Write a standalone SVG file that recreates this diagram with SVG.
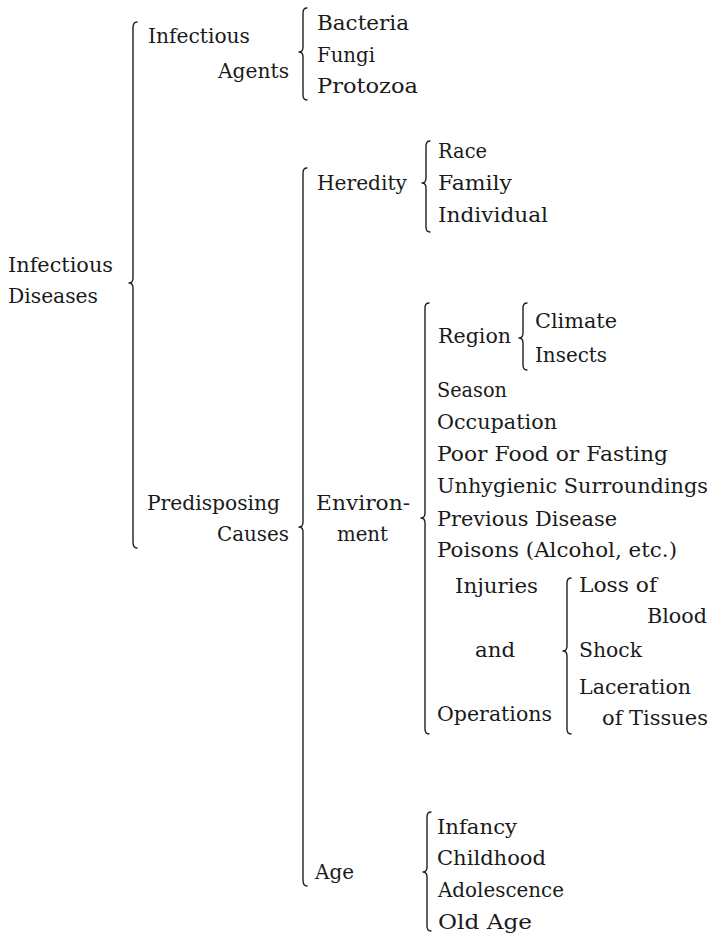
<svg xmlns="http://www.w3.org/2000/svg" width="714" height="933" viewBox="0 0 714 933">
<style>
text{font-family:"DejaVu Serif","Liberation Serif",serif;font-size:20px;fill:#1a1a1a}
.br{fill:none;stroke:#1f1f1f;stroke-width:1.4;stroke-linecap:round;stroke-linejoin:round}
</style>
<rect width="714" height="933" fill="#ffffff"/>
<g id="connectors">
<path class="br" d="M137,22 Q133,22 133,28 L133,278 Q133,283 129,283 Q133,283 133,288 L133,542 Q133,548 137,548"/>
<path class="br" d="M307,8 Q303,8 303,13 L303,47 Q303,52 299,52 Q303,52 303,57 L303,95 Q303,100 307,100"/>
<path class="br" d="M307,168 Q303,168 303,173 L303,522 Q303,527 299,527 Q303,527 303,532 L303,880 Q303,886 307,886"/>
<path class="br" d="M430,141 Q426,141 426,146 L426,178 Q426,183 422,183 Q426,183 426,188 L426,227 Q426,232 430,232"/>
<path class="br" d="M429,303 Q425,303 425,308 L425,513 Q425,518 421,518 Q425,518 425,523 L425,729 Q425,734 429,734"/>
<path class="br" d="M527,303 Q523,303 523,308 L523,333 Q523,338 519,338 Q523,338 523,343 L523,365 Q523,370 527,370"/>
<path class="br" d="M571,578 Q567,578 567,583 L567,646 Q567,651 563,651 Q567,651 567,656 L567,729 Q567,734 571,734"/>
<path class="br" d="M431,812 Q427,812 427,817 L427,867 Q427,872 423,872 Q427,872 427,877 L427,926 Q427,931 431,931"/>
</g>
<g id="infectious-diseases"><text x="8" y="272" textLength="105" lengthAdjust="spacingAndGlyphs">Infectious</text><text x="8" y="303" textLength="90" lengthAdjust="spacingAndGlyphs">Diseases</text></g>
<g id="infectious-agents"><text x="148" y="43" textLength="102" lengthAdjust="spacingAndGlyphs">Infectious</text><text x="218" y="78" textLength="71" lengthAdjust="spacingAndGlyphs">Agents</text></g>
<g id="bacteria"><text x="317" y="30" textLength="92" lengthAdjust="spacingAndGlyphs">Bacteria</text></g>
<g id="fungi"><text x="317" y="62" textLength="58" lengthAdjust="spacingAndGlyphs">Fungi</text></g>
<g id="protozoa"><text x="317" y="93" textLength="101" lengthAdjust="spacingAndGlyphs">Protozoa</text></g>
<g id="predisposing-causes"><text x="147" y="510" textLength="133" lengthAdjust="spacingAndGlyphs">Predisposing</text><text x="217" y="541" textLength="72" lengthAdjust="spacingAndGlyphs">Causes</text></g>
<g id="heredity"><text x="317" y="190" textLength="90" lengthAdjust="spacingAndGlyphs">Heredity</text></g>
<g id="race"><text x="438" y="158" textLength="49" lengthAdjust="spacingAndGlyphs">Race</text></g>
<g id="family"><text x="438" y="190" textLength="74" lengthAdjust="spacingAndGlyphs">Family</text></g>
<g id="individual"><text x="438" y="222" textLength="110" lengthAdjust="spacingAndGlyphs">Individual</text></g>
<g id="environment"><text x="316" y="510" textLength="94" lengthAdjust="spacingAndGlyphs">Environ-</text><text x="337" y="541" textLength="51" lengthAdjust="spacingAndGlyphs">ment</text></g>
<g id="region"><text x="438" y="343" textLength="73" lengthAdjust="spacingAndGlyphs">Region</text></g>
<g id="climate"><text x="535" y="328" textLength="82" lengthAdjust="spacingAndGlyphs">Climate</text></g>
<g id="insects"><text x="535" y="362" textLength="72" lengthAdjust="spacingAndGlyphs">Insects</text></g>
<g id="season"><text x="437" y="397" textLength="70" lengthAdjust="spacingAndGlyphs">Season</text></g>
<g id="occupation"><text x="437" y="429" textLength="120" lengthAdjust="spacingAndGlyphs">Occupation</text></g>
<g id="poor-food"><text x="437" y="461" textLength="231" lengthAdjust="spacingAndGlyphs">Poor Food or Fasting</text></g>
<g id="unhygienic"><text x="437" y="493" textLength="271" lengthAdjust="spacingAndGlyphs">Unhygienic Surroundings</text></g>
<g id="previous-disease"><text x="437" y="526" textLength="180" lengthAdjust="spacingAndGlyphs">Previous Disease</text></g>
<g id="poisons"><text x="437" y="557" textLength="240" lengthAdjust="spacingAndGlyphs">Poisons (Alcohol, etc.)</text></g>
<g id="injuries-operations"><text x="455" y="593" textLength="83" lengthAdjust="spacingAndGlyphs">Injuries</text><text x="475" y="657" textLength="40" lengthAdjust="spacingAndGlyphs">and</text><text x="437" y="721" textLength="115" lengthAdjust="spacingAndGlyphs">Operations</text></g>
<g id="loss-of-blood"><text x="579" y="592" textLength="78" lengthAdjust="spacingAndGlyphs">Loss of</text><text x="647" y="623" textLength="60" lengthAdjust="spacingAndGlyphs">Blood</text></g>
<g id="shock"><text x="579" y="657" textLength="63" lengthAdjust="spacingAndGlyphs">Shock</text></g>
<g id="laceration"><text x="579" y="694" textLength="112" lengthAdjust="spacingAndGlyphs">Laceration</text><text x="602" y="725" textLength="106" lengthAdjust="spacingAndGlyphs">of Tissues</text></g>
<g id="age"><text x="315" y="879" textLength="39" lengthAdjust="spacingAndGlyphs">Age</text></g>
<g id="infancy"><text x="437" y="834" textLength="80" lengthAdjust="spacingAndGlyphs">Infancy</text></g>
<g id="childhood"><text x="437" y="865" textLength="109" lengthAdjust="spacingAndGlyphs">Childhood</text></g>
<g id="adolescence"><text x="438" y="897" textLength="126" lengthAdjust="spacingAndGlyphs">Adolescence</text></g>
<g id="old-age"><text x="438" y="929" textLength="94" lengthAdjust="spacingAndGlyphs">Old Age</text></g>
</svg>
